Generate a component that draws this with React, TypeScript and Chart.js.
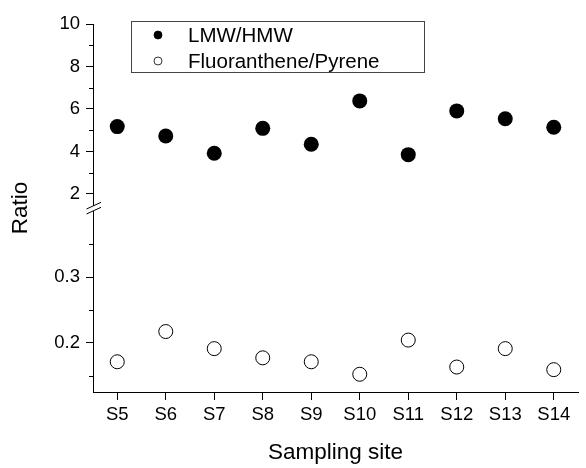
import React, { useEffect, useRef } from 'react';
import { Chart, registerables } from 'chart.js';

Chart.register(...registerables);

const sites = ['S5', 'S6', 'S7', 'S8', 'S9', 'S10', 'S11', 'S12', 'S13', 'S14'];
const lmwHmw = [5.17, 4.73, 3.92, 5.09, 4.34, 6.38, 3.85, 5.91, 5.54, 5.14];
const fluPyr = [0.171, 0.217, 0.191, 0.177, 0.171, 0.152, 0.204, 0.163, 0.191, 0.159];
const upperTicks = [2, 4, 6, 8, 10];
const upperMinor = [3, 5, 7, 9];
const lowerTicks = [0.2, 0.3];
const lowerMinor = [0.15, 0.25, 0.35];
const upperRange = [1.34, 10];
const lowerRange = [0.125, 0.405];
const seriesLabels = ['LMW/HMW', 'Fluoranthene/Pyrene'];
const xTitle = 'Sampling site';
const yTitle = 'Ratio';

const FONT = "'Liberation Sans', Arial, sans-serif";

const decorPlugin = {
  id: 'decor',
  afterDraw(chart: any) {
    const ctx = chart.ctx as CanvasRenderingContext2D;
    const area = chart.chartArea;
    const yU = chart.scales.yUpper;
    const yL = chart.scales.yLower;
    const ax = area.left;
    ctx.save();
    ctx.strokeStyle = '#000';
    ctx.lineWidth = 1;
    const minor = (scale: any, vals: number[]) => {
      vals.forEach((v) => {
        const y = Math.round(scale.getPixelForValue(v)) + 0.5;
        ctx.beginPath();
        ctx.moveTo(ax - 4, y);
        ctx.lineTo(ax, y);
        ctx.stroke();
      });
    };
    minor(yU, upperMinor);
    minor(yL, lowerMinor);

    // axis break
    const by = yU.bottom;
    ctx.fillStyle = '#fff';
    ctx.fillRect(ax - 2, by - 2, 4, 5);
    ctx.beginPath();
    ctx.moveTo(ax - 6.5, by + 1);
    ctx.lineTo(ax + 8, by - 5.7);
    ctx.moveTo(ax - 6.5, by + 6);
    ctx.lineTo(ax + 8, by - 0.7);
    ctx.stroke();

    // titles
    ctx.fillStyle = '#000';
    ctx.font = `22.5px ${FONT}`;
    ctx.textAlign = 'center';
    ctx.textBaseline = 'middle';
    ctx.fillText(xTitle, (area.left + area.right) / 2, 453);
    ctx.save();
    ctx.translate(21, (area.top + area.bottom) / 2);
    ctx.rotate(-Math.PI / 2);
    ctx.fillText(yTitle, 0, 0);
    ctx.restore();

    // legend
    ctx.strokeStyle = '#444';
    ctx.strokeRect(131.5, 21.5, 293, 51);
    ctx.font = `20.5px ${FONT}`;
    ctx.textAlign = 'left';
    ctx.textBaseline = 'middle';
    const rows = [35, 61];
    chart.data.datasets.forEach((ds: any, i: number) => {
      ctx.beginPath();
      ctx.arc(158, rows[i], 4, 0, Math.PI * 2);
      ctx.fillStyle = ds.backgroundColor;
      ctx.fill();
      ctx.strokeStyle = '#000';
      ctx.lineWidth = 0.8;
      ctx.stroke();
      ctx.fillStyle = '#000';
      ctx.fillText(ds.label, 188, rows[i] + 1);
    });
    ctx.restore();
  },
};

const fitY = (scale: any) => {
  scale.width = 93;
  scale.paddingTop = 0;
  scale.paddingBottom = 0;
};

export default function App() {
  const ref = useRef<HTMLCanvasElement>(null);
  useEffect(() => {
    document.body.style.margin = '0';
    const chart = new Chart(ref.current as HTMLCanvasElement, {
      type: 'line',
      data: {
        labels: sites,
        datasets: [
          {
            label: seriesLabels[0],
            data: lmwHmw,
            yAxisID: 'yUpper',
            showLine: false,
            pointRadius: 7.5,
            pointBackgroundColor: '#000',
            backgroundColor: '#000',
            pointBorderColor: '#000',
            pointBorderWidth: 0,
          },
          {
            label: seriesLabels[1],
            data: fluPyr,
            yAxisID: 'yLower',
            showLine: false,
            pointRadius: 7,
            pointBackgroundColor: '#fff',
            backgroundColor: '#fff',
            pointBorderColor: '#000',
            pointBorderWidth: 1,
          },
        ],
      },
      options: {
        responsive: false,
        animation: false,
        devicePixelRatio: 1,
        layout: { padding: { top: 24, right: 1, left: 0, bottom: 0 } },
        plugins: { legend: { display: false }, tooltip: { enabled: false } },
        scales: {
          x: {
            type: 'category',
            offset: true,
            border: { color: '#000', width: 1 },
            grid: { drawOnChartArea: false, tickLength: 8, color: '#000', offset: false },
            ticks: { color: '#000', font: { size: 18.5, family: FONT }, padding: 4, maxRotation: 0 },
            afterFit: (s: any) => {
              s.height = 76;
              s.paddingLeft = 0;
              s.paddingRight = 0;
            },
          },
          yLower: {
            type: 'linear',
            position: 'left',
            stack: 'ratio',
            stackWeight: 1,
            min: lowerRange[0],
            max: lowerRange[1],
            border: { color: '#000', width: 1 },
            grid: { drawOnChartArea: false, tickLength: 7, color: '#000' },
            ticks: { color: '#000', font: { size: 18.5, family: FONT }, padding: 6 },
            afterBuildTicks: (s: any) => {
              s.ticks = lowerTicks.map((v) => ({ value: v }));
            },
            afterFit: fitY,
          },
          yUpper: {
            type: 'linear',
            position: 'left',
            stack: 'ratio',
            stackWeight: 1,
            min: upperRange[0],
            max: upperRange[1],
            border: { color: '#000', width: 1 },
            grid: { drawOnChartArea: false, tickLength: 7, color: '#000' },
            ticks: { color: '#000', font: { size: 18.5, family: FONT }, padding: 6 },
            afterBuildTicks: (s: any) => {
              s.ticks = upperTicks.map((v) => ({ value: v }));
            },
            afterFit: fitY,
          },
        },
      },
      plugins: [decorPlugin],
    } as any);
    return () => chart.destroy();
  }, []);
  return (
    <div style={{ width: 586, height: 468 }}>
      <canvas ref={ref} width={586} height={468} />
    </div>
  );
}
